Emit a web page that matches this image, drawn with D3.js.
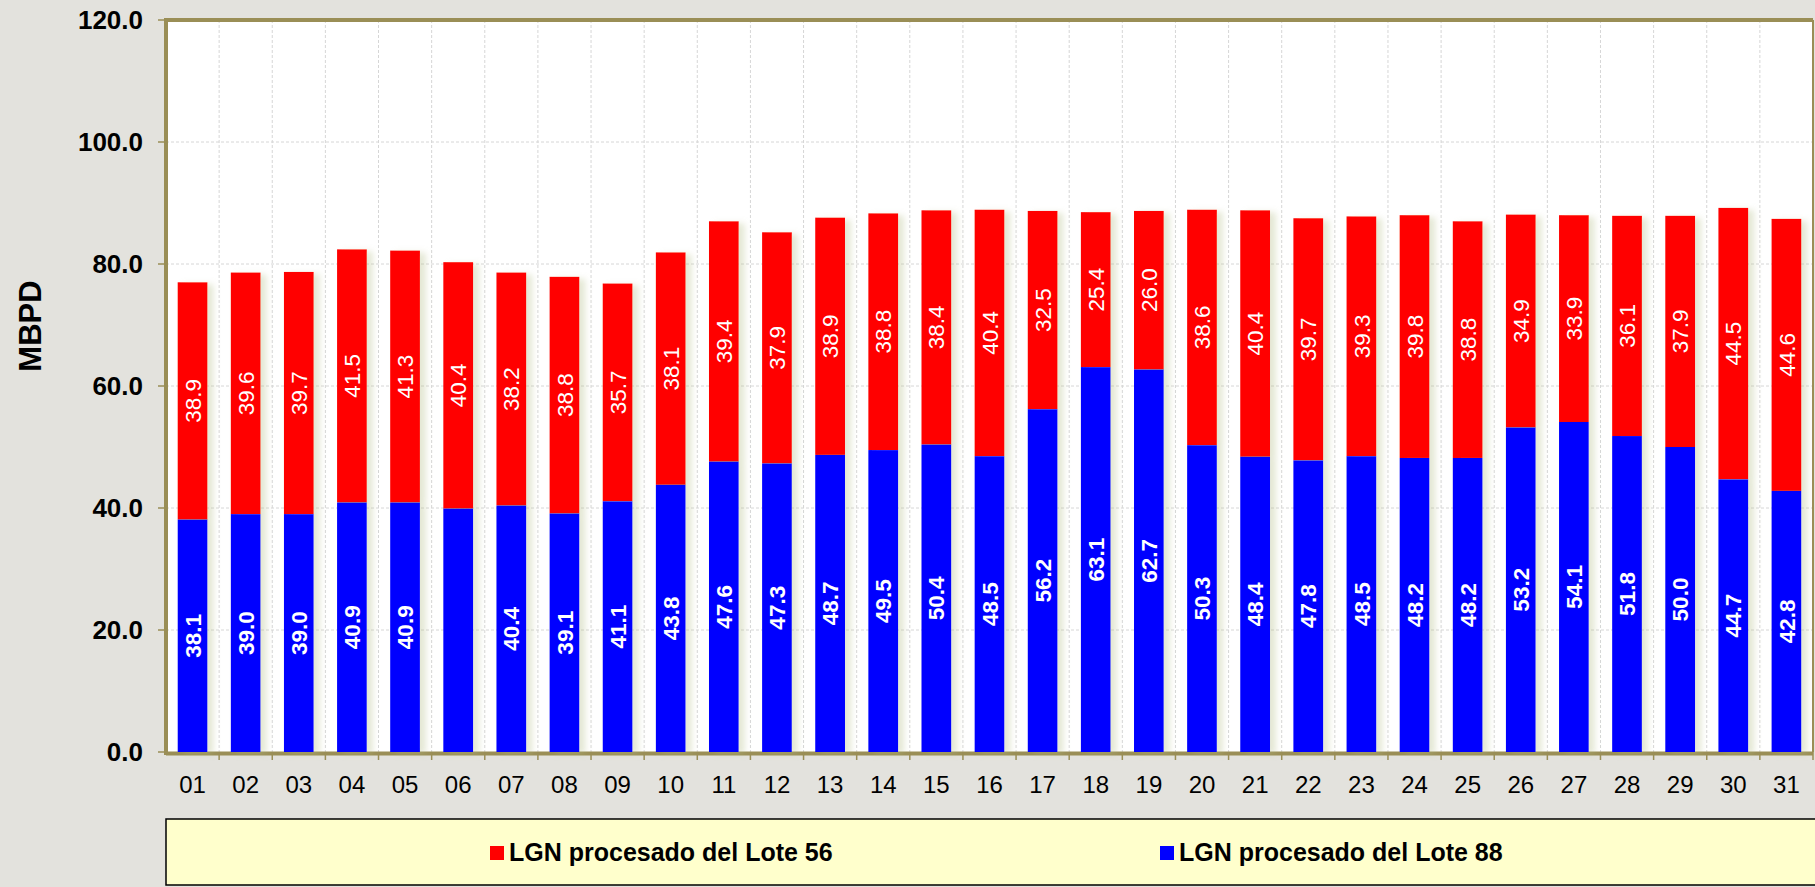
<!DOCTYPE html>
<html>
<head>
<meta charset="utf-8">
<script src="https://cdn.jsdelivr.net/npm/d3@7"></script>
<style>
  body { margin: 0; background: #e3e2dd; }
  svg { display: block; font-family: Arial, "Liberation Sans", sans-serif; }
</style>
</head>
<body>
<div id="chart"></div>
<script>
// chart size and plot box
const width = 1815;
const height = 887;
const margin = {left: 166, right: 2, top: 20, bottom: 135};

// days of the month
const days = ["01","02","03","04","05","06","07","08","09","10","11","12","13","14","15","16",
              "17","18","19","20","21","22","23","24","25","26","27","28","29","30","31"];

// LGN from Lote 88 (blue, bottom of the stack)
const lote88 = [38.1, 39.0, 39.0, 40.9, 40.9, 39.9, 40.4, 39.1, 41.1, 43.8, 47.6, 47.3, 48.7, 49.5, 50.4, 48.5,
                56.2, 63.1, 62.7, 50.3, 48.4, 47.8, 48.5, 48.2, 48.2, 53.2, 54.1, 51.8, 50.0, 44.7, 42.8];

// LGN from Lote 56 (red, top of the stack)
const lote56 = [38.9, 39.6, 39.7, 41.5, 41.3, 40.4, 38.2, 38.8, 35.7, 38.1, 39.4, 37.9, 38.9, 38.8, 38.4, 40.4,
                32.5, 25.4, 26.0, 38.6, 40.4, 39.7, 39.3, 39.8, 38.8, 34.9, 33.9, 36.1, 37.9, 44.5, 44.6];

// the blue label of day 06 is not shown in the original
const hidden88 = ["06"];

const yTicks = [0, 20, 40, 60, 80, 100, 120];

const seriesNames = ["LGN procesado del Lote 56", "LGN procesado del Lote 88"];
const seriesColors = ["#ff0000", "#0000ff"];
const olive = "#9a8e56";

const svg = d3.select("#chart")
  .append("svg")
  .attr("width", width)
  .attr("height", height);

// soft shadow behind bars
const defs = svg.append("defs");
defs.append("filter")
    .attr("id", "shadow")
    .attr("x", "-20%").attr("y", "-5%")
    .attr("width", "160%").attr("height", "110%")
  .append("feDropShadow")
    .attr("dx", 6).attr("dy", 2)
    .attr("stdDeviation", 3)
    .attr("flood-color", "#b4bd86")
    .attr("flood-opacity", 0.35);

const plotRight = width - margin.right;

const yScale = d3.scaleLinear()
  .domain([0, 120])
  .range([752, margin.top]);

const xScale = d3.scaleBand()
  .domain(days)
  .range([margin.left, plotRight])
  .paddingInner(0.44)
  .paddingOuter(0.22);

const step = xScale.step();
const bw = xScale.bandwidth();
// boundary to the right of each day
const boundary = d => xScale(d) + bw + step * 0.22;

// plot background
svg.append("rect")
  .attr("x", margin.left)
  .attr("y", yScale(120))
  .attr("width", plotRight - margin.left)
  .attr("height", yScale(0) - yScale(120))
  .attr("fill", "#ffffff");

// grid lines
svg.append("g")
  .selectAll("line")
  .data(yTicks.slice(1, -1))
  .join("line")
    .attr("x1", margin.left)
    .attr("x2", plotRight)
    .attr("y1", d => yScale(d))
    .attr("y2", d => yScale(d))
    .attr("stroke", "#d6d6d6")
    .attr("stroke-dasharray", "3,2");

svg.append("g")
  .selectAll("line")
  .data(days.slice(0, -1))
  .join("line")
    .attr("x1", d => boundary(d))
    .attr("x2", d => boundary(d))
    .attr("y1", yScale(120))
    .attr("y2", yScale(0))
    .attr("stroke", "#d6d6d6")
    .attr("stroke-dasharray", "3,2");

// bottom axis line (shows between the bars)
svg.append("line")
  .attr("x1", margin.left)
  .attr("x2", plotRight)
  .attr("y1", yScale(0) + 1.5)
  .attr("y2", yScale(0) + 1.5)
  .attr("stroke", olive)
  .attr("stroke-width", 4);

// stacked bars
const rows = days.map((d, i) => ({day: d, lote88: lote88[i], lote56: lote56[i]}));
const stack = d3.stack().keys(["lote56", "lote88"]).order(d3.stackOrderReverse);
const stacked = stack(rows);

const barG = svg.append("g").attr("filter", "url(#shadow)");
barG.selectAll("g")
  .data(stacked)
  .join("g")
    .attr("fill", (s, i) => seriesColors[i])
  .selectAll("rect")
  .data(s => s)
  .join("rect")
    .attr("x", d => xScale(d.data.day))
    .attr("y", d => yScale(d[1]))
    .attr("width", bw)
    .attr("height", d => yScale(d[0]) - yScale(d[1]));

// value labels inside segments
stacked.forEach((s) => {
  const isBlue = s.key === "lote88";
  svg.append("g")
    .selectAll("text")
    .data(s.filter(d => !(isBlue && hidden88.includes(d.data.day))))
    .join("text")
      .attr("transform", d => `translate(${xScale(d.data.day) + bw / 2},${yScale((d[0] + d[1]) / 2)}) rotate(-90)`)
      .attr("text-anchor", "middle")
      .attr("dy", "0.36em")
      .attr("fill", "#ffffff")
      .attr("font-size", "22.5px")
      .attr("font-weight", isBlue ? "bold" : "normal")
      .text(d => d.data[s.key].toFixed(1));
});

// plot frame
svg.append("line")
  .attr("x1", margin.left).attr("x2", margin.left)
  .attr("y1", yScale(120) - 2).attr("y2", yScale(0) + 3)
  .attr("stroke", olive).attr("stroke-width", 4);
svg.append("line")
  .attr("x1", margin.left - 2).attr("x2", plotRight)
  .attr("y1", yScale(120)).attr("y2", yScale(120))
  .attr("stroke", olive).attr("stroke-width", 4);
svg.append("line")
  .attr("x1", plotRight).attr("x2", plotRight)
  .attr("y1", yScale(120)).attr("y2", yScale(0))
  .attr("stroke", olive).attr("stroke-width", 2);

// y axis ticks and labels
const yAxis = svg.append("g");
yAxis.selectAll("line")
  .data(yTicks)
  .join("line")
    .attr("x1", margin.left - 8).attr("x2", margin.left)
    .attr("y1", d => yScale(d)).attr("y2", d => yScale(d))
    .attr("stroke", olive).attr("stroke-width", 1.5);
yAxis.selectAll("text")
  .data(yTicks)
  .join("text")
    .attr("x", 143)
    .attr("y", d => yScale(d))
    .attr("dy", "0.36em")
    .attr("text-anchor", "end")
    .attr("font-size", "26px")
    .attr("font-weight", "bold")
    .attr("fill", "#000")
    .text(d => d.toFixed(1));

// x axis ticks and labels
const xAxis = svg.append("g");
xAxis.selectAll("line")
  .data(days)
  .join("line")
    .attr("x1", d => boundary(d)).attr("x2", d => boundary(d))
    .attr("y1", yScale(0)).attr("y2", yScale(0) + 8)
    .attr("stroke", olive).attr("stroke-width", 1.5);
xAxis.selectAll("text")
  .data(days)
  .join("text")
    .attr("x", d => xScale(d) + bw / 2)
    .attr("y", 793)
    .attr("text-anchor", "middle")
    .attr("font-size", "24px")
    .attr("fill", "#000")
    .text(d => d);

// y axis title
svg.append("text")
  .attr("transform", "translate(30,326) rotate(-90)")
  .attr("text-anchor", "middle")
  .attr("dy", "0.36em")
  .attr("font-size", "31px")
  .attr("font-weight", "bold")
  .text("MBPD");

// legend
const legend = svg.append("g");
legend.append("rect")
  .attr("x", margin.left)
  .attr("y", 819)
  .attr("width", width - margin.left + 5)
  .attr("height", 66)
  .attr("fill", "#ffffcc")
  .attr("stroke", "#000")
  .attr("stroke-width", 1.5);

const legendX = [490, 1160];
const items = legend.selectAll("g.item")
  .data(seriesNames)
  .join("g")
    .attr("class", "item")
    .attr("transform", (d, i) => `translate(${legendX[i]},846)`);
items.append("rect")
  .attr("width", 14)
  .attr("height", 14)
  .attr("fill", (d, i) => seriesColors[i]);
items.append("text")
  .attr("x", 19)
  .attr("y", 15)
  .attr("font-size", "25px")
  .attr("font-weight", "bold")
  .attr("fill", "#000")
  .text(d => d);
</script>
</body>
</html>
